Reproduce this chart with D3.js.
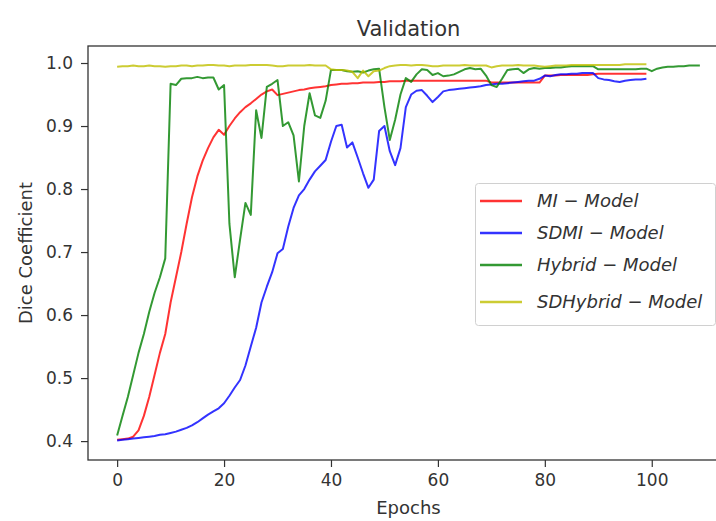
<!DOCTYPE html>
<html>
<head>
<meta charset="utf-8">
<script src="https://cdn.jsdelivr.net/npm/d3@7"></script>
<style>
  body { margin: 0; background: #fff; }
  svg { display: block; }
</style>
</head>
<body>
<div id="chart"></div>
<script>
// Validation dice coefficient per epoch
const miModel = [
  0.402, 0.403, 0.404, 0.407, 0.417, 0.440, 0.470, 0.505, 0.540, 0.570,
  0.620, 0.660, 0.700, 0.745, 0.787, 0.820, 0.845, 0.865, 0.882, 0.894,
  0.886, 0.900, 0.912, 0.922, 0.930, 0.936, 0.943, 0.950, 0.955, 0.958,
  0.949, 0.951, 0.953, 0.955, 0.957, 0.958, 0.960, 0.961, 0.962, 0.963,
  0.965, 0.966, 0.967, 0.967, 0.968, 0.968, 0.969, 0.969, 0.969, 0.970,
  0.970, 0.971, 0.971, 0.971, 0.972, 0.972, 0.972, 0.972, 0.972, 0.972,
  0.972, 0.972, 0.972, 0.972, 0.972, 0.972, 0.972, 0.972, 0.972, 0.972,
  0.969, 0.969, 0.969, 0.969, 0.969, 0.969, 0.969, 0.969, 0.969, 0.969,
  0.980, 0.980, 0.980, 0.981, 0.981, 0.981, 0.981, 0.981, 0.981, 0.982,
  0.983, 0.983, 0.983, 0.983, 0.983, 0.983, 0.983, 0.983, 0.983, 0.983
];
const sdmiModel = [
  0.401, 0.402, 0.403, 0.404, 0.405, 0.406, 0.407, 0.408, 0.410, 0.411,
  0.413, 0.415, 0.418, 0.421, 0.425, 0.430, 0.436, 0.442, 0.447, 0.452,
  0.460, 0.472, 0.485, 0.497, 0.520, 0.550, 0.580, 0.620, 0.645, 0.668,
  0.698, 0.705, 0.740, 0.770, 0.790, 0.800, 0.815, 0.828, 0.837, 0.846,
  0.875, 0.900, 0.902, 0.866, 0.874, 0.850, 0.825, 0.802, 0.815, 0.892,
  0.900, 0.860, 0.838, 0.865, 0.930, 0.950, 0.956, 0.957, 0.948, 0.938,
  0.946, 0.955, 0.957, 0.958, 0.959, 0.960, 0.961, 0.962, 0.963, 0.965,
  0.966, 0.967, 0.967, 0.968, 0.969, 0.970, 0.971, 0.972, 0.972, 0.975,
  0.980, 0.979, 0.981, 0.982, 0.982, 0.983, 0.983, 0.984, 0.984, 0.984,
  0.976, 0.974, 0.973, 0.971, 0.970, 0.972, 0.973, 0.974, 0.974, 0.975
];
const hybridModel = [
  0.409, 0.440, 0.470, 0.505, 0.540, 0.570, 0.605, 0.635, 0.660, 0.690,
  0.967, 0.965, 0.975, 0.976, 0.976, 0.978, 0.976, 0.977, 0.977, 0.958,
  0.965, 0.745, 0.660, 0.720, 0.778, 0.759, 0.925, 0.881, 0.962, 0.967,
  0.973, 0.900, 0.906, 0.885, 0.812, 0.900, 0.952, 0.917, 0.913, 0.940,
  0.989, 0.989, 0.989, 0.987, 0.986, 0.987, 0.985, 0.988, 0.990, 0.991,
  0.930, 0.878, 0.910, 0.950, 0.976, 0.970, 0.982, 0.990, 0.989, 0.981,
  0.984, 0.979, 0.980, 0.982, 0.986, 0.990, 0.992, 0.990, 0.991, 0.980,
  0.965, 0.962, 0.975, 0.989, 0.990, 0.991, 0.984, 0.990, 0.992, 0.991,
  0.992, 0.992, 0.993, 0.993, 0.994, 0.995, 0.995, 0.995, 0.995, 0.995,
  0.990, 0.990, 0.990, 0.990, 0.990, 0.990, 0.990, 0.990, 0.991, 0.991,
  0.987, 0.991, 0.993, 0.994, 0.994, 0.995, 0.995, 0.996, 0.996, 0.996
];
const sdHybridModel = [
  0.994, 0.995, 0.995, 0.996, 0.995, 0.995, 0.996, 0.995, 0.995, 0.994,
  0.995, 0.995, 0.996, 0.996, 0.995, 0.996, 0.996, 0.997, 0.997, 0.996,
  0.996, 0.995, 0.996, 0.996, 0.996, 0.997, 0.997, 0.997, 0.997, 0.996,
  0.995, 0.995, 0.996, 0.996, 0.996, 0.996, 0.997, 0.996, 0.996, 0.996,
  0.990, 0.989, 0.989, 0.988, 0.986, 0.976, 0.988, 0.979, 0.987, 0.988,
  0.992, 0.995, 0.996, 0.997, 0.997, 0.996, 0.997, 0.997, 0.996, 0.995,
  0.995, 0.996, 0.996, 0.996, 0.996, 0.997, 0.996, 0.996, 0.996, 0.996,
  0.993, 0.995, 0.996, 0.996, 0.996, 0.997, 0.996, 0.996, 0.996, 0.995,
  0.994, 0.995, 0.996, 0.996, 0.996, 0.997, 0.997, 0.997, 0.997, 0.997,
  0.997, 0.997, 0.997, 0.997, 0.997, 0.998, 0.998, 0.998, 0.998, 0.998
];

const seriesNames = ["MI-Model", "SDMI-Model", "Hybrid-Model", "SDHybrid-Model"];
const seriesColors = ["#ff0000", "#0000ff", "#008000", "#bfbf00"];
const xTicks = [0, 20, 40, 60, 80, 100];
const yTicks = [0.4, 0.5, 0.6, 0.7, 0.8, 0.9, 1.0];

const drawChart = () => {
    const width = 716, height = 521;
    const left = 88, right = 729, top = 46, bottom = 460;

    const svg = d3.select("#chart").append("svg")
        .attr("width", width)
        .attr("height", height)
        .style("font-family", "'DejaVu Sans', sans-serif");

    // matplotlib-style limits: 5% padding around data range
    const x = d3.scaleLinear().domain([-5.45, 114.45]).range([left, right]);
    const y = d3.scaleLinear().domain([0.37, 1.027]).range([bottom, top]);

    const allSeries = [miModel, sdmiModel, hybridModel, sdHybridModel];

    const line = d3.line()
        .x((d, i) => x(i))
        .y(d => y(d));

    // clip lines to plot area
    svg.append("clipPath").attr("id", "clip")
        .append("rect")
        .attr("x", left).attr("y", top)
        .attr("width", right - left).attr("height", bottom - top);

    const plot = svg.append("g").attr("clip-path", "url(#clip)");
    allSeries.forEach((data, k) => {
        plot.append("path")
            .datum(data)
            .attr("fill", "none")
            .attr("stroke", seriesColors[k])
            .attr("stroke-opacity", 0.8)
            .attr("stroke-width", 2)
            .attr("stroke-linejoin", "round")
            .attr("d", line);
    });

    // axes
    const xAxis = d3.axisBottom(x).tickValues(xTicks).tickSize(7).tickPadding(7)
        .tickFormat(d3.format("d"));
    const yAxis = d3.axisLeft(y).tickValues(yTicks).tickSize(7).tickPadding(8)
        .tickFormat(d3.format(".1f"));

    const gx = svg.append("g").attr("transform", `translate(0,${bottom})`).call(xAxis);
    const gy = svg.append("g").attr("transform", `translate(${left},0)`).call(yAxis);
    [gx, gy].forEach(g => {
        g.select(".domain").remove();
        g.selectAll(".tick line").attr("stroke", "#333").attr("stroke-width", 1.2);
        g.selectAll(".tick text")
            .attr("fill", "#333")
            .style("font-size", "17px")
            .style("font-family", "'DejaVu Sans', sans-serif");
    });

    // frame
    svg.append("rect")
        .attr("x", left).attr("y", top)
        .attr("width", right - left).attr("height", bottom - top)
        .attr("fill", "none")
        .attr("stroke", "#333")
        .attr("stroke-width", 1.3);

    // title & labels
    svg.append("text")
        .attr("x", (left + right) / 2).attr("y", 36)
        .attr("text-anchor", "middle")
        .style("font-size", "21px")
        .attr("fill", "#333")
        .text("Validation");

    svg.append("text")
        .attr("x", (left + right) / 2).attr("y", 514)
        .attr("text-anchor", "middle")
        .style("font-size", "18px")
        .attr("fill", "#333")
        .text("Epochs");

    svg.append("text")
        .attr("transform", `translate(32,${(top + bottom) / 2}) rotate(-90)`)
        .attr("text-anchor", "middle")
        .style("font-size", "18px")
        .attr("fill", "#333")
        .text("Dice Coefficient");

    // legend
    const legend = svg.append("g");
    legend.append("rect")
        .attr("x", 475.5).attr("y", 183.5)
        .attr("width", 240).attr("height", 142)
        .attr("rx", 3)
        .attr("fill", "#fff").attr("fill-opacity", 0.8)
        .attr("stroke", "#d0d0d0");

    const legendY = [201, 233, 265, 302];
    seriesNames.forEach((name, k) => {
        legend.append("line")
            .attr("x1", 480).attr("x2", 522)
            .attr("y1", legendY[k]).attr("y2", legendY[k])
            .attr("stroke", seriesColors[k])
            .attr("stroke-opacity", 0.8)
            .attr("stroke-width", 2.5);
        const parts = name.split("-");
        legend.append("text")
            .attr("x", 537).attr("y", legendY[k] + 6)
            .style("font-size", "18px")
            .style("font-style", "italic")
            .attr("fill", "#333")
            .text(`${parts[0]} \u2212 ${parts[1]}`);
    });
};

document.addEventListener("DOMContentLoaded", drawChart);
</script>
</body>
</html>
